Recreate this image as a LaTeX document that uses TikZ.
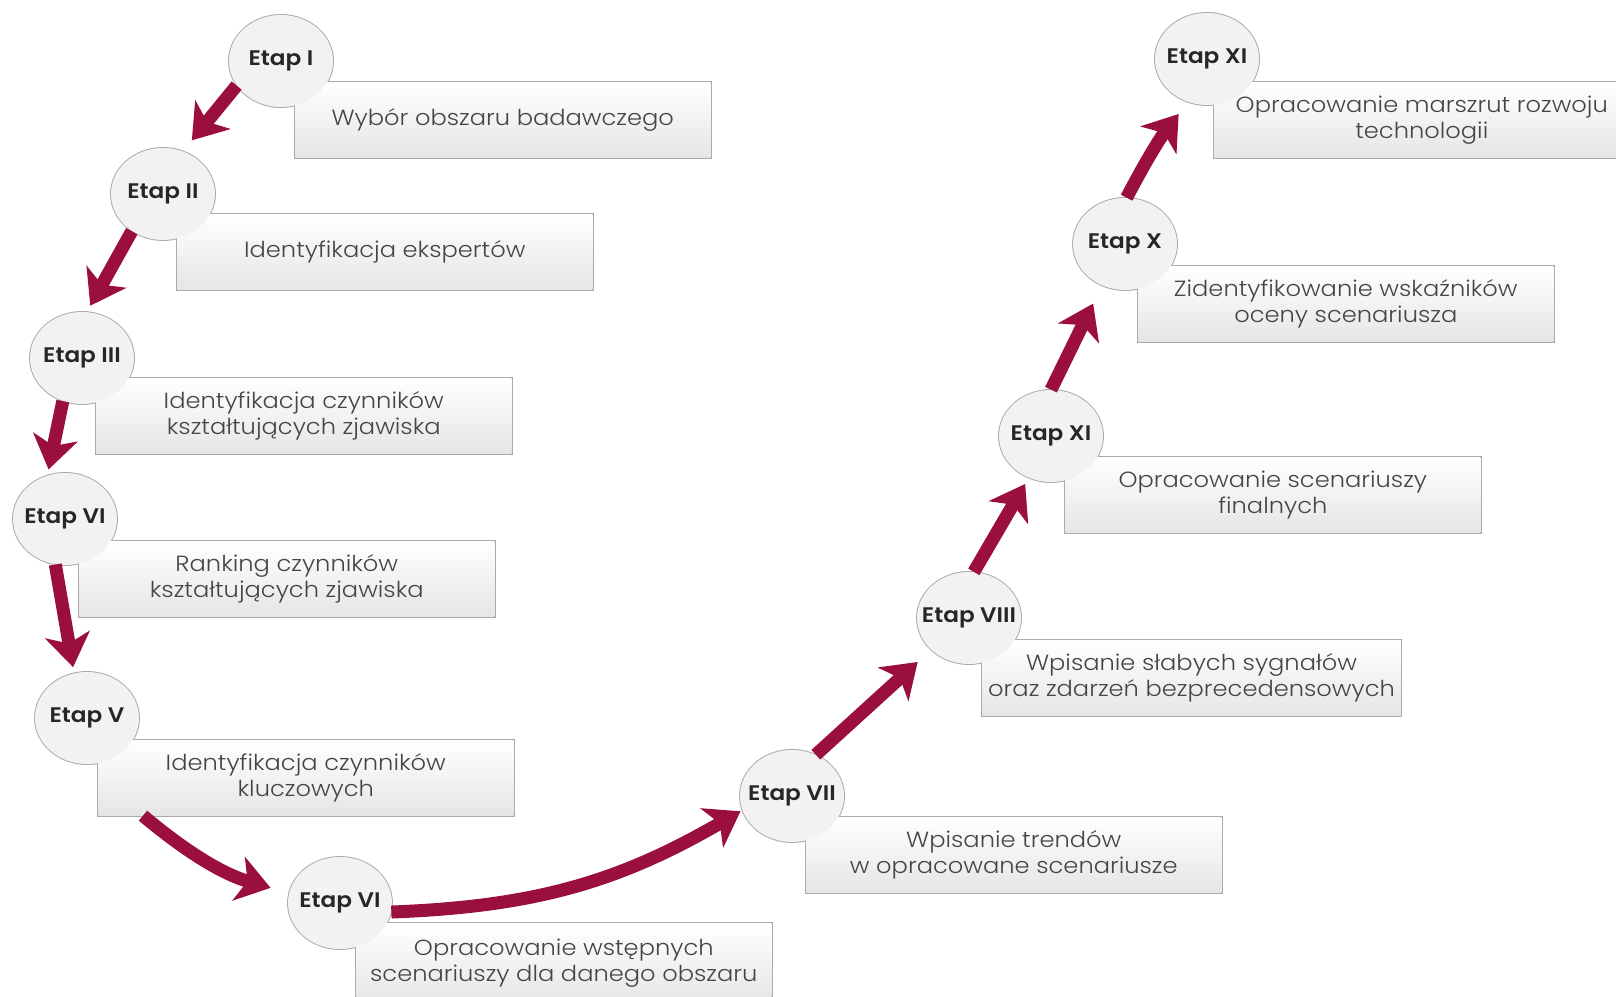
\documentclass[tikz,border=0pt]{standalone}
\usepackage{fontspec}
\setmainfont{Poppins Light}[FakeStretch=1.1, BoldFont={Poppins SemiBold}]
\usetikzlibrary{shapes.geometric}
\usetikzlibrary{arrows.meta}
\usetikzlibrary{backgrounds}
\definecolor{bordo}{HTML}{9A0F3C}
\definecolor{napis}{HTML}{454545}
\tikzset{
    etap/.style = {ellipse, inner sep=0pt, fill=black!5,
                   minimum width=2.08cm, minimum height=1.84cm,
                   font=\fontsize{12}{14}\selectfont\bfseries, text=black!85,
                   execute at begin node={\hbox to 0pt\bgroup\hss},
                   execute at end node={\hss\egroup}
    },
    opis/.style = {rectangle, anchor=north west, align=center,
                   minimum width=8.3cm, minimum height=1.5cm,
                   top color=white, bottom color=black!10,
                   font=\fontsize{12.5}{14.8}\selectfont, text=napis
    },
    kontur/.style = {draw=black!33, line width=1.1pt},
    strzalka/.style = {draw=bordo, line width=0.26cm,
                       -{Stealth[length=0.66cm, width=0.9cm, inset=0.18cm]}
    },
}

\begin{document}
\begin{tikzpicture}[x=0.02cm, y=0.02cm]
    \useasboundingbox (0,0) rectangle (1616,997);
    % etapy
    \node (b1) [opis] at (295,915) {Wybór obszaru badawczego};
    \node (e1) [etap] at ([shift={(-14,21)}]b1.north west) {Etap I};
    \node (b2) [opis] at (177,783) {Identyfikacja ekspertów};
    \node (e2) [etap] at ([shift={(-14,20)}]b2.north west) {Etap II};
    \node (b3) [opis] at (96,619)
              {Identyfikacja czynników\\ kształtujących zjawiska};
    \node (e3) [etap] at ([shift={(-14,20)}]b3.north west) {Etap III};
    \node (b4) [opis] at (79,456)
              {Ranking czynników\\ kształtujących zjawiska};
    \node (e4) [etap] at ([shift={(-14,22)}]b4.north west) {Etap VI};
    \node (b5) [opis] at (98,257)
              {Identyfikacja czynników\\ kluczowych};
    \node (e5) [etap] at ([shift={(-11,22)}]b5.north west) {Etap V};
    \node (b6) [opis, minimum height=1.6cm] at (356,74)
              {Opracowanie wstępnych\\ scenariuszy dla danego obszaru};
    \node (e6) [etap] at ([shift={(-16,20)}]b6.north west) {Etap VI};
    \node (b7) [opis] at (806,180)
              {Wpisanie trendów\\ w opracowane scenariusze};
    \node (e7) [etap] at ([shift={(-14,21)}]b7.north west) {Etap VII};
    \node (b8) [opis] at (982,357)
              {Wpisanie słabych sygnałów\\ oraz zdarzeń bezprecedensowych};
    \node (e8) [etap] at ([shift={(-13,22)}]b8.north west) {Etap VIII};
    \node (b9) [opis] at (1065,540)
              {Opracowanie scenariuszy\\ finalnych};
    \node (e9) [etap] at ([shift={(-14,21)}]b9.north west) {Etap XI};
    \node (b10) [opis] at (1138,731)
              {Zidentyfikowanie wskaźników\\ oceny scenariusza};
    \node (e10) [etap] at ([shift={(-13,22)}]b10.north west) {Etap X};
    \node (b11) [opis] at (1214,915)
              {Opracowanie marszrut rozwoju\\ technologii};
    \node (e11) [etap] at ([shift={(-7,23)}]b11.north west) {Etap XI};
    % obrys
    \begin{scope}[on background layer]
        \foreach \n in {1,...,11} {
            \draw[kontur] (e\n.center) ellipse [x radius=1.04cm, y radius=0.92cm];
            \draw[kontur] (b\n.south west) rectangle (b\n.north east);
        }
    \end{scope}
    % strzalki
    \draw[strzalka, shorten >=0.28cm] (e1.209) -- (e2.65);
    \draw[strzalka, shorten >=0.14cm] (e2.230) -- (e3.84);
    \draw[strzalka, shorten >=0.12cm] (e3.246) -- (e4.112);
    \draw[strzalka, shorten >=0.12cm] (e4.258) -- (e5.106);
    \draw[strzalka, shorten >=0.38cm] ([xshift=0.9cm]b5.south west)
        to[bend right=12] (e6.169);
    \draw[strzalka, shorten >=0.04cm] (e6.350) to[bend right=14] (e7.196);
    \draw[strzalka, shorten >=0.36cm] (e7.60) -- (e8.220);
    \draw[strzalka, shorten >=0.14cm] (e8.84) -- (e9.242);
    \draw[strzalka, shorten >=0.40cm] (e9.90) -- (e10.241);
    \draw[strzalka, shorten >=0.30cm] (e10.88) to[bend left=5] (e11.246);
\end{tikzpicture}
\end{document}
